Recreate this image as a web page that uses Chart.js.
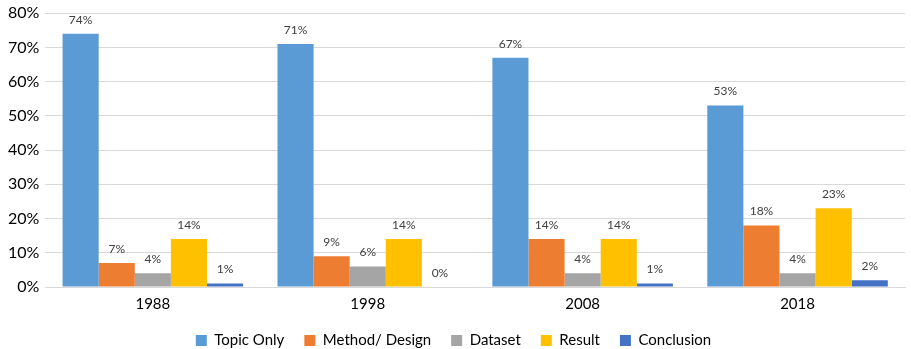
<!DOCTYPE html>
<html>
<head>
<meta charset="utf-8">
<script src="https://cdn.jsdelivr.net/npm/chart.js@4.4.0/dist/chart.umd.min.js"></script>
<style>
  html, body { margin: 0; padding: 0; background: #fff; }
  #wrap { width: 911px; height: 349px; }
</style>
</head>
<body>
<div id="wrap"><canvas id="chart"></canvas></div>
<script>
const years = ['1988', '1998', '2008', '2018'];
const topicOnly = [74, 71, 67, 53];
const methodDesign = [7, 9, 14, 18];
const dataset = [4, 6, 4, 4];
const result = [14, 14, 14, 23];
const conclusion = [1, 0, 1, 2];

const FONT = 'Lato, "Open Sans", sans-serif';

// labels on top of each bar
const barLabels = {
    id: 'barLabels',
    afterDatasetsDraw(chart) {
        const ctx = chart.ctx;
        ctx.save();
        ctx.font = '12px ' + FONT;
        ctx.fillStyle = '#404040';
        ctx.textAlign = 'center';
        ctx.textBaseline = 'bottom';
        chart.data.datasets.forEach((ds, i) => {
            chart.getDatasetMeta(i).data.forEach((bar, j) => {
                ctx.fillText(ds.data[j] + '%', bar.x, bar.y - 8);
            });
        });
        ctx.restore();
    }
};

new Chart(document.getElementById('chart').getContext('2d'), {
    type: 'bar',
    data: {
        labels: years,
        datasets: [
            {label: 'Topic Only', data: topicOnly, backgroundColor: '#5B9BD5'},
            {label: 'Method/ Design', data: methodDesign, backgroundColor: '#ED7D31'},
            {label: 'Dataset', data: dataset, backgroundColor: '#A5A5A5'},
            {label: 'Result', data: result, backgroundColor: '#FFC000'},
            {label: 'Conclusion', data: conclusion, backgroundColor: '#4472C4'}
        ]
    },
    options: {
        responsive: true,
        maintainAspectRatio: false,
        animation: false,
        layout: {padding: {top: 0, right: 6, left: 2, bottom: -9}},
        datasets: {
            bar: {categoryPercentage: 0.84, barPercentage: 1.0}
        },
        scales: {
            y: {
                min: 0,
                max: 80,
                ticks: {
                    stepSize: 10,
                    callback: v => v + '%',
                    color: '#000',
                    font: {family: FONT, size: 16, lineHeight: 0.9},
                    padding: 6
                },
                grid: {color: '#d9d9d9', drawTicks: false},
                border: {display: false}
            },
            x: {
                ticks: {color: '#000', font: {family: FONT, size: 15}, padding: 0},
                grid: {display: false},
                border: {color: '#d9d9d9'}
            }
        },
        plugins: {
            legend: {
                position: 'bottom',
                labels: {
                    color: '#000',
                    font: {family: FONT, size: 15},
                    boxWidth: 11,
                    boxHeight: 11,
                    padding: 20
                },
                padding: -6
            },
            tooltip: {enabled: false}
        }
    },
    plugins: [barLabels]
});
</script>
</body>
</html>
